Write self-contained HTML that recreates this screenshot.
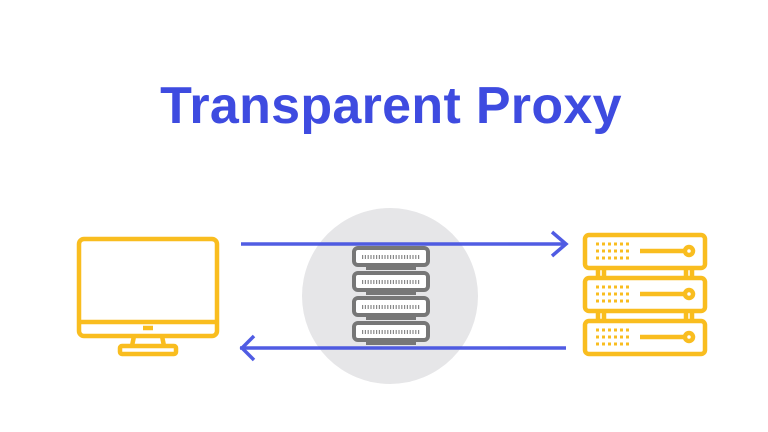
<!DOCTYPE html>
<html><head><style>
html,body{margin:0;padding:0;background:#fff;width:768px;height:432px;overflow:hidden}
.t{position:absolute;left:0;width:782px;top:76px;text-align:center;font:bold 52px "Liberation Sans",sans-serif;color:#3e4be0;letter-spacing:0.3px}
</style></head><body>
<div class="t">Transparent Proxy</div>
<svg width="768" height="432" style="position:absolute;left:0;top:0">
<circle cx="390" cy="296" r="88" fill="#e6e6e8"/>
<g fill="#fff" stroke="#777" stroke-width="4">
<rect x="354" y="248" width="74" height="17" rx="4"/>
<rect x="354" y="273" width="74" height="17" rx="4"/>
<rect x="354" y="298" width="74" height="17" rx="4"/>
<rect x="354" y="323" width="74" height="17" rx="4"/>
</g>
<g stroke="#777" stroke-width="4"><line x1="366" y1="268" x2="416" y2="268"/><line x1="366" y1="293" x2="416" y2="293"/><line x1="366" y1="318" x2="416" y2="318"/><line x1="366" y1="343" x2="416" y2="343"/></g>
<g stroke="#888" stroke-width="4" stroke-dasharray="1.2 1.6"><line x1="362" y1="257" x2="420" y2="257"/><line x1="362" y1="282" x2="420" y2="282"/><line x1="362" y1="307" x2="420" y2="307"/><line x1="362" y1="332" x2="420" y2="332"/></g>
<g stroke="#3e4be0" stroke-width="3.5" fill="none" opacity="0.9">
<line x1="241" y1="244" x2="566" y2="244"/>
<polyline points="552,232 566,244 552,256"/>
<line x1="240" y1="348" x2="566" y2="348"/>
<polyline points="254,336 242,348 254,360"/>
</g>
<g stroke="#f9bd1f" stroke-width="4.5" fill="none">
<rect x="79" y="239" width="138" height="97" rx="5"/>
<line x1="79" y1="322" x2="217" y2="322"/>
<line x1="143" y1="328" x2="153" y2="328"/>
<path d="M134 336 L132 346 M162 336 L164 346"/>
<rect x="120" y="346" width="56" height="8" rx="2"/>
</g>
<g stroke="#f9bd1f" stroke-width="4.5" fill="none">
<rect x="585" y="235" width="120" height="33" rx="4"/>
<rect x="585" y="278" width="120" height="33" rx="4"/>
<rect x="585" y="321" width="120" height="33" rx="4"/>
<path d="M598 268v10M604 268v10M686 268v10M692 268v10M598 311v10M604 311v10M686 311v10M692 311v10"/>
<line x1="640" y1="251" x2="684" y2="251"/><circle cx="689" cy="251" r="4"/>
<line x1="640" y1="294" x2="684" y2="294"/><circle cx="689" cy="294" r="4"/>
<line x1="640" y1="337" x2="684" y2="337"/><circle cx="689" cy="337" r="4"/>
</g>
<g stroke="#f9bd1f" stroke-width="3" stroke-dasharray="3 3">
<line x1="596" y1="244" x2="632" y2="244"/><line x1="596" y1="251" x2="632" y2="251"/><line x1="596" y1="258" x2="632" y2="258"/>
<line x1="596" y1="287" x2="632" y2="287"/><line x1="596" y1="294" x2="632" y2="294"/><line x1="596" y1="301" x2="632" y2="301"/>
<line x1="596" y1="330" x2="632" y2="330"/><line x1="596" y1="337" x2="632" y2="337"/><line x1="596" y1="344" x2="632" y2="344"/>
</g>
</svg>
</body></html>
